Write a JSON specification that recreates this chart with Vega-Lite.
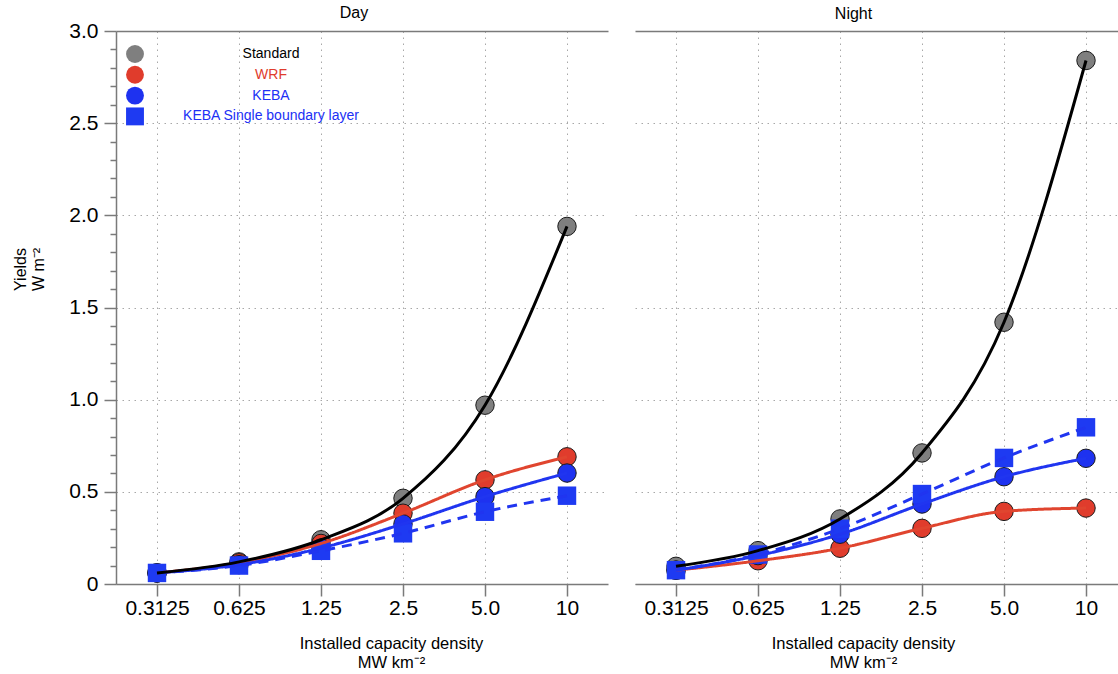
{
  "$schema": "https://vega.github.io/schema/vega-lite/v6.json",
  "background": "white",
  "padding": {"left": 12, "top": 5, "right": 0, "bottom": 0},
  "config": {
    "font": "Liberation Sans",
    "view": {"stroke": null},
    "concat": {"spacing": 27},
    "title": {"font": "Liberation Sans", "fontSize": 16, "fontWeight": "normal", "color": "black"},
    "axis": {
      "labelFont": "Liberation Sans", "labelFontSize": 21, "labelColor": "black",
      "titleFont": "Liberation Sans", "titleFontSize": 16, "titleFontWeight": "normal", "titleColor": "black",
      "domainColor": "#7a7a7a", "domainWidth": 1.5,
      "tickColor": "#7a7a7a", "tickWidth": 1.5,
      "gridColor": "#a8a8a8", "gridWidth": 1, "gridDash": [1.5, 4.5]
    }
  },
  "datasets": {
    "yields": [
      {"panel": "Day", "series": "Standard", "density": "0.3125", "value": 0.06},
      {"panel": "Day", "series": "Standard", "density": "0.625", "value": 0.12},
      {"panel": "Day", "series": "Standard", "density": "1.25", "value": 0.24},
      {"panel": "Day", "series": "Standard", "density": "2.5", "value": 0.465},
      {"panel": "Day", "series": "Standard", "density": "5.0", "value": 0.97},
      {"panel": "Day", "series": "Standard", "density": "10", "value": 1.94},
      {"panel": "Day", "series": "WRF", "density": "0.3125", "value": 0.06},
      {"panel": "Day", "series": "WRF", "density": "0.625", "value": 0.115},
      {"panel": "Day", "series": "WRF", "density": "1.25", "value": 0.22},
      {"panel": "Day", "series": "WRF", "density": "2.5", "value": 0.384},
      {"panel": "Day", "series": "WRF", "density": "5.0", "value": 0.565},
      {"panel": "Day", "series": "WRF", "density": "10", "value": 0.69},
      {"panel": "Day", "series": "KEBA", "density": "0.3125", "value": 0.06},
      {"panel": "Day", "series": "KEBA", "density": "0.625", "value": 0.105},
      {"panel": "Day", "series": "KEBA", "density": "1.25", "value": 0.195},
      {"panel": "Day", "series": "KEBA", "density": "2.5", "value": 0.326},
      {"panel": "Day", "series": "KEBA", "density": "5.0", "value": 0.474},
      {"panel": "Day", "series": "KEBA", "density": "10", "value": 0.602},
      {"panel": "Day", "series": "KEBA Single boundary layer", "density": "0.3125", "value": 0.06},
      {"panel": "Day", "series": "KEBA Single boundary layer", "density": "0.625", "value": 0.1},
      {"panel": "Day", "series": "KEBA Single boundary layer", "density": "1.25", "value": 0.18},
      {"panel": "Day", "series": "KEBA Single boundary layer", "density": "2.5", "value": 0.275},
      {"panel": "Day", "series": "KEBA Single boundary layer", "density": "5.0", "value": 0.392},
      {"panel": "Day", "series": "KEBA Single boundary layer", "density": "10", "value": 0.479},
      {"panel": "Night", "series": "Standard", "density": "0.3125", "value": 0.096},
      {"panel": "Night", "series": "Standard", "density": "0.625", "value": 0.181},
      {"panel": "Night", "series": "Standard", "density": "1.25", "value": 0.353},
      {"panel": "Night", "series": "Standard", "density": "2.5", "value": 0.711},
      {"panel": "Night", "series": "Standard", "density": "5.0", "value": 1.42},
      {"panel": "Night", "series": "Standard", "density": "10", "value": 2.84},
      {"panel": "Night", "series": "WRF", "density": "0.3125", "value": 0.075},
      {"panel": "Night", "series": "WRF", "density": "0.625", "value": 0.126},
      {"panel": "Night", "series": "WRF", "density": "1.25", "value": 0.194},
      {"panel": "Night", "series": "WRF", "density": "2.5", "value": 0.302},
      {"panel": "Night", "series": "WRF", "density": "5.0", "value": 0.394},
      {"panel": "Night", "series": "WRF", "density": "10", "value": 0.412},
      {"panel": "Night", "series": "KEBA", "density": "0.3125", "value": 0.075},
      {"panel": "Night", "series": "KEBA", "density": "0.625", "value": 0.154},
      {"panel": "Night", "series": "KEBA", "density": "1.25", "value": 0.27},
      {"panel": "Night", "series": "KEBA", "density": "2.5", "value": 0.434},
      {"panel": "Night", "series": "KEBA", "density": "5.0", "value": 0.582},
      {"panel": "Night", "series": "KEBA", "density": "10", "value": 0.682},
      {"panel": "Night", "series": "KEBA Single boundary layer", "density": "0.3125", "value": 0.075},
      {"panel": "Night", "series": "KEBA Single boundary layer", "density": "0.625", "value": 0.16},
      {"panel": "Night", "series": "KEBA Single boundary layer", "density": "1.25", "value": 0.3},
      {"panel": "Night", "series": "KEBA Single boundary layer", "density": "2.5", "value": 0.488},
      {"panel": "Night", "series": "KEBA Single boundary layer", "density": "5.0", "value": 0.684},
      {"panel": "Night", "series": "KEBA Single boundary layer", "density": "10", "value": 0.85}
    ]
  },
  "resolve": {
    "scale": {"fill": "independent", "shape": "independent", "stroke": "independent", "strokeDash": "independent"},
    "legend": {"fill": "independent", "shape": "independent"}
  },
  "hconcat": [
    {
      "title": {"text": "Day", "dx": -8, "offset": -1},
      "width": 492,
      "height": 553,
      "data": {"name": "yields"},
      "transform": [{"filter": "datum.panel === 'Day'"}],
      "layer": [
        {
          "mark": {"type": "point", "filled": true, "size": 340, "opacity": 1, "stroke": "#1a1a1a"},
          "encoding": {
            "x": {
              "field": "density", "type": "ordinal",
              "sort": ["0.3125", "0.625", "1.25", "2.5", "5.0", "10"],
              "scale": {"type": "point", "padding": 0.5},
              "axis": {"title": ["Installed capacity density", "MW km⁻²"], "titleFontSize": 16.5, "labelAngle": 0, "tickSize": 12, "labelPadding": 1, "grid": true, "titlePadding": 17, "titleLineHeight": 19, "titleX": 275}
            },
            "y": {
              "field": "value", "type": "quantitative",
              "scale": {"domain": [0, 3], "nice": false},
              "axis": {
                "title": ["Yields", "W m⁻²"],
                "values": [0, 0.1, 0.2, 0.3, 0.4, 0.5, 0.6, 0.7, 0.8, 0.9, 1, 1.1, 1.2, 1.3, 1.4, 1.5, 1.6, 1.7, 1.8, 1.9, 2, 2.1, 2.2, 2.3, 2.4, 2.5, 2.6, 2.7, 2.8, 2.9, 3],
                "labelExpr": "abs(datum.value * 2 - round(datum.value * 2)) < 0.000001 ? (datum.value === 0 ? '0' : format(datum.value, '.1f')) : ''",
                "labelFlush": false, "labelOverlap": false,
                "tickSize": {"condition": {"test": "abs(datum.value * 2 - round(datum.value * 2)) < 0.000001", "value": 12}, "value": 6},
                "labelPadding": 6,
                "grid": true,
                "gridOpacity": {"condition": {"test": "abs(datum.value * 2 - round(datum.value * 2)) < 0.000001", "value": 1}, "value": 0},
                "gridDash": {"condition": {"test": "datum.value === 3", "value": []}, "value": [1.5, 4.5]},
                "gridColor": {"condition": {"test": "datum.value === 3", "value": "#7a7a7a"}, "value": "#a8a8a8"},
                "gridWidth": {"condition": {"test": "datum.value === 3", "value": 1.5}, "value": 1},
                "titlePadding": 22, "titleLineHeight": 18, "titleY": 238
              }
            },
            "fill": {
              "field": "series", "type": "nominal",
              "scale": {"domain": ["Standard", "WRF", "KEBA", "KEBA Single boundary layer"], "range": ["#7f7f7f", "#e03c2c", "#1e32f0", "#1e3af2"]},
              "legend": {
                "orient": "none", "legendX": 10, "legendY": 14, "title": null, "padding": 0,
                "symbolSize": 320, "symbolStrokeWidth": 0, "symbolOpacity": 1,
                "labelFont": "Liberation Sans", "labelFontSize": 14, "labelAlign": "center", "labelOffset": 127, "labelLimit": 400,
                "rowPadding": 2.8,
                "labelColor": {"expr": "datum.value === 'Standard' ? 'black' : datum.value === 'WRF' ? '#e03c2c' : '#2030f5'"}
              }
            },
            "shape": {
              "field": "series", "type": "nominal",
              "scale": {"domain": ["Standard", "WRF", "KEBA", "KEBA Single boundary layer"], "range": ["circle", "circle", "circle", "square"]},
              "legend": {
                "orient": "none", "legendX": 10, "legendY": 14, "title": null, "padding": 0,
                "symbolSize": 320, "symbolStrokeWidth": 0, "symbolOpacity": 1,
                "labelFont": "Liberation Sans", "labelFontSize": 14, "labelAlign": "center", "labelOffset": 127, "labelLimit": 400,
                "rowPadding": 2.8,
                "labelColor": {"expr": "datum.value === 'Standard' ? 'black' : datum.value === 'WRF' ? '#e03c2c' : '#2030f5'"}
              }
            },
            "strokeWidth": {"condition": {"test": "datum.series === 'KEBA Single boundary layer'", "value": 0}, "value": 1}
          }
        },
        {
          "transform": [{"filter": "datum.series !== 'Standard'"}],
          "mark": {"type": "line", "interpolate": "monotone", "strokeWidth": 3},
          "encoding": {
            "x": {"field": "density", "type": "ordinal", "sort": ["0.3125", "0.625", "1.25", "2.5", "5.0", "10"], "axis": null},
            "y": {"field": "value", "type": "quantitative", "axis": null},
            "stroke": {"field": "series", "type": "nominal", "scale": {"domain": ["WRF", "KEBA", "KEBA Single boundary layer"], "range": ["#e0452f", "#2035f0", "#2035f0"]}, "legend": null},
            "strokeDash": {"field": "series", "type": "nominal", "scale": {"domain": ["WRF", "KEBA", "KEBA Single boundary layer"], "range": [[1, 0], [1, 0], [10, 7]]}, "legend": null}
          }
        },
        {
          "transform": [{"filter": "datum.series === 'Standard'"}],
          "mark": {"type": "line", "interpolate": "monotone", "strokeWidth": 3, "color": "black"},
          "encoding": {
            "x": {"field": "density", "type": "ordinal", "sort": ["0.3125", "0.625", "1.25", "2.5", "5.0", "10"], "axis": null},
            "y": {"field": "value", "type": "quantitative", "axis": null}
          }
        }
      ],
      "resolve": {"axis": {"x": "independent", "y": "independent"}}
    },
    {
      "title": {"text": "Night", "dx": -23, "offset": 9},
      "width": 483,
      "height": 553,
      "data": {"name": "yields"},
      "transform": [{"filter": "datum.panel === 'Night'"}],
      "layer": [
        {
          "mark": {"type": "point", "filled": true, "size": 340, "opacity": 1, "stroke": "#1a1a1a"},
          "encoding": {
            "x": {
              "field": "density", "type": "ordinal",
              "sort": ["0.3125", "0.625", "1.25", "2.5", "5.0", "10"],
              "scale": {"type": "point", "padding": 0.4451, "align": 0.5617},
              "axis": {"title": ["Installed capacity density", "MW km⁻²"], "titleFontSize": 16.5, "labelAngle": 0, "tickSize": 12, "labelPadding": 1, "grid": true, "titlePadding": 17, "titleLineHeight": 19, "titleX": 228}
            },
            "y": {
              "field": "value", "type": "quantitative",
              "scale": {"domain": [0, 3], "nice": false},
              "axis": {
                "title": null, "values": [0, 0.5, 1, 1.5, 2, 2.5, 3],
                "labels": false, "ticks": false, "domain": false, "grid": true,
                "gridDash": {"condition": {"test": "datum.value === 3", "value": []}, "value": [1.5, 4.5]},
                "gridColor": {"condition": {"test": "datum.value === 3", "value": "#7a7a7a"}, "value": "#a8a8a8"},
                "gridWidth": {"condition": {"test": "datum.value === 3", "value": 1.5}, "value": 1}
              }
            },
            "fill": {
              "field": "series", "type": "nominal",
              "scale": {"domain": ["Standard", "WRF", "KEBA", "KEBA Single boundary layer"], "range": ["#7f7f7f", "#e03c2c", "#1e32f0", "#1e3af2"]},
              "legend": null
            },
            "shape": {
              "field": "series", "type": "nominal",
              "scale": {"domain": ["Standard", "WRF", "KEBA", "KEBA Single boundary layer"], "range": ["circle", "circle", "circle", "square"]},
              "legend": null
            },
            "strokeWidth": {"condition": {"test": "datum.series === 'KEBA Single boundary layer'", "value": 0}, "value": 1}
          }
        },
        {
          "transform": [{"filter": "datum.series !== 'Standard'"}],
          "mark": {"type": "line", "interpolate": "monotone", "strokeWidth": 3},
          "encoding": {
            "x": {"field": "density", "type": "ordinal", "sort": ["0.3125", "0.625", "1.25", "2.5", "5.0", "10"], "axis": null},
            "y": {"field": "value", "type": "quantitative", "axis": null},
            "stroke": {"field": "series", "type": "nominal", "scale": {"domain": ["WRF", "KEBA", "KEBA Single boundary layer"], "range": ["#e0452f", "#2035f0", "#2035f0"]}, "legend": null},
            "strokeDash": {"field": "series", "type": "nominal", "scale": {"domain": ["WRF", "KEBA", "KEBA Single boundary layer"], "range": [[1, 0], [1, 0], [10, 7]]}, "legend": null}
          }
        },
        {
          "transform": [{"filter": "datum.series === 'Standard'"}],
          "mark": {"type": "line", "interpolate": "monotone", "strokeWidth": 3, "color": "black"},
          "encoding": {
            "x": {"field": "density", "type": "ordinal", "sort": ["0.3125", "0.625", "1.25", "2.5", "5.0", "10"], "axis": null},
            "y": {"field": "value", "type": "quantitative", "axis": null}
          }
        }
      ],
      "resolve": {"axis": {"x": "independent", "y": "independent"}}
    }
  ]
}
